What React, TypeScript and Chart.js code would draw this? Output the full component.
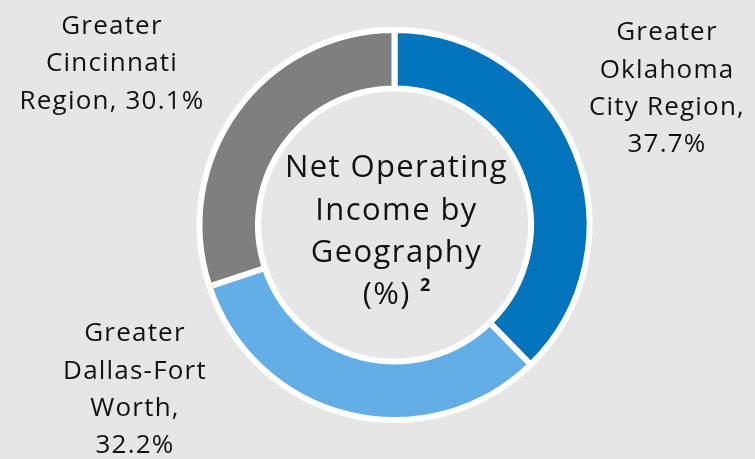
import React, { useEffect, useRef } from "react";
import { Chart, registerables } from "chart.js";

Chart.register(...registerables);

// ---- Data ----
const categories = ["Greater Oklahoma City Region", "Greater Dallas-Fort Worth", "Greater Cincinnati Region"];
const shares = [37.7, 32.2, 30.1];
// wrapped label lines; {v} is replaced by the value
const labelLines = [
  ["Greater", "Oklahoma", "City Region,", "{v}%"],
  ["Greater", "Dallas-Fort", "Worth,", "{v}%"],
  ["Greater", "Cincinnati", "Region, {v}%"],
];
const centerTitleLines = ["Net Operating", "Income by", "Geography", "(%)"];
const centerFootnote = "2";

// ---- Styles / layout ----
const sliceColors = ["#0174bb", "#64aee8", "#7f7f7f"];
const bgColor = "#e6e6e6";
const textColor = "#111111";
const fontFamily = "'Open Sans', sans-serif";
// block centres relative to doughnut centre
const labelOffsets = [
  { dx: 272.5, dy: -138 },
  { dx: -259.5, dy: 163 },
  { dx: -282.5, dy: -163 },
];

const labelsPlugin = {
  id: "doughnutLabels",
  afterDraw(chart: any) {
    const ctx = chart.ctx as CanvasRenderingContext2D;
    const meta = chart.getDatasetMeta(0);
    const first = meta.data[0] as any;
    const cx = first.x;
    const cy = first.y;
    const values = chart.data.datasets[0].data as number[];

    ctx.save();
    ctx.fillStyle = textColor;
    ctx.textAlign = "center";
    ctx.textBaseline = "middle";

    // outer labels
    const outerSize = 26;
    const outerLH = 37.3;
    ctx.font = `${outerSize}px ${fontFamily}`;
    (ctx as any).letterSpacing = "1.2px";
    labelLines.forEach((lines, i) => {
      const off = labelOffsets[i];
      const n = lines.length;
      lines.forEach((ln, j) => {
        const text = ln.replace("{v}", values[i].toFixed(1));
        const y = cy + off.dy + (j - (n - 1) / 2) * outerLH + 2;
        ctx.fillText(text, cx + off.dx, y);
      });
    });

    // centre title
    const cSize = 31;
    const cLH = 42.3;
    ctx.font = `${cSize}px ${fontFamily}`;
    (ctx as any).letterSpacing = "1.4px";
    const n = centerTitleLines.length;
    const baseY = cy + 5;
    centerTitleLines.forEach((ln, j) => {
      const y = baseY + (j - (n - 1) / 2) * cLH + 2;
      if (j < n - 1) {
        ctx.fillText(ln, cx + 2, y);
      } else {
        // last line with superscript footnote
        const mainW = ctx.measureText(ln).width;
        ctx.font = `bold 18px ${fontFamily}`;
        (ctx as any).letterSpacing = "0px";
        const supW = ctx.measureText(centerFootnote).width;
        const gap = 9;
        const total = mainW + gap + supW;
        const startX = cx + 2 - total / 2;
        ctx.textAlign = "left";
        ctx.font = `${cSize}px ${fontFamily}`;
        (ctx as any).letterSpacing = "1.4px";
        ctx.fillText(ln, startX, y);
        ctx.font = `bold 18px ${fontFamily}`;
        (ctx as any).letterSpacing = "0px";
        ctx.fillText(centerFootnote, startX + mainW + gap, y - 10);
      }
    });
    ctx.restore();
  },
};

export default function App() {
  const canvasRef = useRef<HTMLCanvasElement | null>(null);

  useEffect(() => {
    if (!canvasRef.current) return;
    const chart = new Chart(canvasRef.current, {
      type: "doughnut",
      data: {
        labels: categories,
        datasets: [
          {
            data: shares,
            backgroundColor: sliceColors,
            borderColor: "#ffffff",
            borderWidth: 6,
            hoverBorderWidth: 6,
            hoverOffset: 0,
            offset: 0,
          } as any,
        ],
      },
      options: {
        responsive: false,
        animation: false,
        cutout: "70%",
        rotation: 0,
        layout: { padding: { top: 27, bottom: 36, left: 196.5, right: 162.5 } },
        plugins: {
          legend: { display: false },
          tooltip: { enabled: false },
        },
        events: [],
      },
      plugins: [labelsPlugin],
    });
    return () => chart.destroy();
  }, []);

  return (
    <div
      style={{
        position: "fixed",
        left: 0,
        top: 0,
        width: 755,
        height: 459,
        background: bgColor,
        overflow: "hidden",
      }}
    >
      <canvas ref={canvasRef} width={755} height={459} style={{ display: "block" }} />
    </div>
  );
}
